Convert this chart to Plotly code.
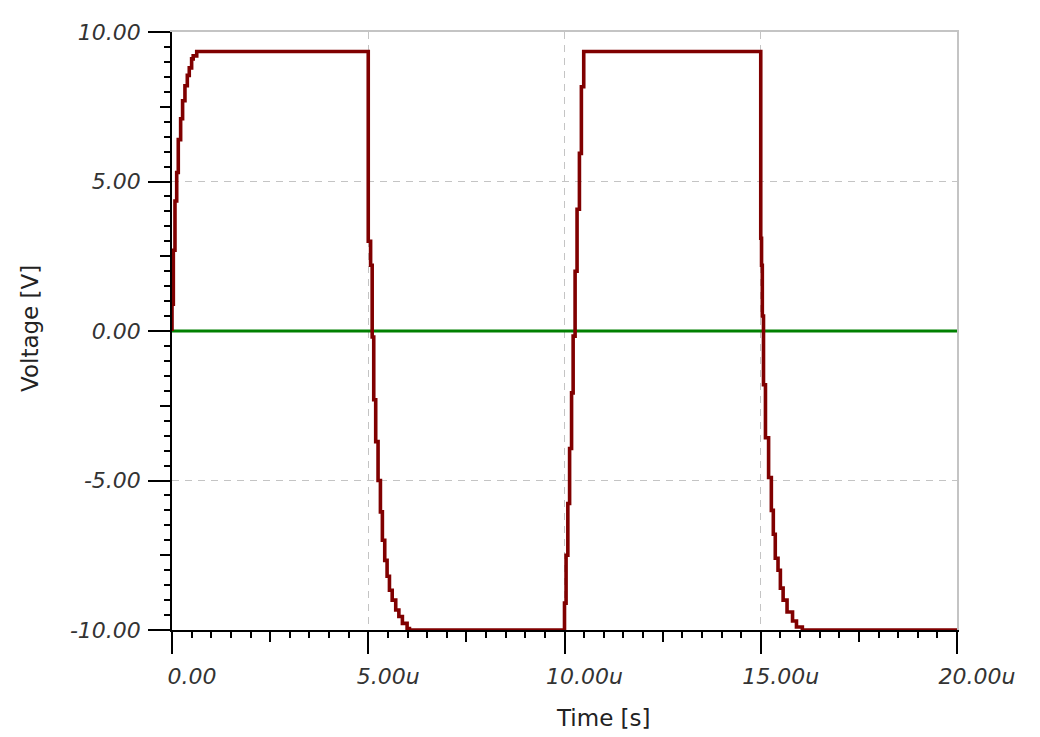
import plotly.graph_objects as go

# ---- data (time in microseconds, voltage in volts) ----
t_us = [0.0, 0.0, 0.034, 0.076, 0.12, 0.16, 0.22, 0.27, 0.33, 0.39, 0.44, 0.50, 0.54, 0.63,
        5.0, 5.06, 5.10, 5.14, 5.19, 5.25, 5.31, 5.36, 5.42, 5.48, 5.54, 5.61, 5.70, 5.78, 5.87, 5.99, 6.05,
        10.0, 10.04, 10.085, 10.13, 10.18, 10.22, 10.27, 10.32, 10.38, 10.43, 10.49,
        15.0, 15.02, 15.04, 15.07, 15.12, 15.20, 15.27, 15.32, 15.37, 15.44, 15.50, 15.57, 15.67, 15.81, 15.91, 16.06,
        20.0]
v_out = [0.0, 0.9, 2.7, 4.35, 5.3, 6.4, 7.1, 7.7, 8.2, 8.55, 8.8, 9.1, 9.2, 9.35,
         3.0, 2.2, -0.2, -2.3, -3.7, -5.0, -6.05, -7.0, -7.67, -8.2, -8.67, -9.0, -9.33, -9.55, -9.78, -9.95, -10.0,
         -9.1, -7.5, -5.77, -3.93, -2.07, -0.17, 2.0, 4.07, 5.94, 8.17, 9.35,
         3.1, 2.2, 0.5, -1.8, -3.57, -4.9, -6.0, -6.8, -7.6, -8.0, -8.6, -9.0, -9.4, -9.7, -9.9, -10.0,
         -10.0]
t_ref = [0.0, 20.0]
v_ref = [0.0, 0.0]

x_tickvals = [0, 5, 10, 15, 20]
x_ticktext = ["0.00", "5.00u", "10.00u", "15.00u", "20.00u"]
y_tickvals = [-10, -5, 0, 5, 10]
y_ticktext = ["-10.00", "-5.00", "0.00", "5.00", "10.00"]
x_mid_ticks = [2.5, 7.5, 12.5, 17.5]
y_mid_ticks = [-7.5, -2.5, 2.5, 7.5]

x_title = "Time [s]"
y_title = "Voltage [V]"

FONT = "DejaVu Sans"
GRID = "#c4c4c4"
DASH = "7px,6px"

fig = go.Figure()
fig.add_trace(go.Scatter(x=t_ref, y=v_ref, mode="lines",
                         line=dict(color="#008000", width=3.2), showlegend=False, hoverinfo="skip"))
fig.add_trace(go.Scatter(x=t_us, y=v_out, mode="lines", line_shape="hv",
                         line=dict(color="#800000", width=3.6), showlegend=False))
# helper traces for border / mid-tick axes
fig.add_trace(go.Scatter(x=[0], y=[0], xaxis="x2", yaxis="y2", mode="none",
                         showlegend=False, hoverinfo="skip"))
fig.add_trace(go.Scatter(x=[0], y=[0], xaxis="x3", yaxis="y3", mode="none",
                         showlegend=False, hoverinfo="skip"))

tickfont = dict(family=FONT, size=22, color="#333333", style="italic")

# the page body adds an 8px offset, so margins are reduced by 8px on left/top
fig.update_layout(
    width=1040, height=737,
    margin=dict(l=164, r=91, t=22, b=115, pad=0),
    paper_bgcolor="white", plot_bgcolor="white",
    xaxis=dict(range=[0, 20], tickvals=x_tickvals, ticktext=x_ticktext,
               showline=True, linecolor="black", linewidth=1.5,
               ticks="outside", ticklen=22, tickwidth=1.5, tickcolor="black",
               tickfont=tickfont, ticklabelshift=20, ticklabelstandoff=4,
               showgrid=True, gridcolor=GRID, griddash=DASH, gridwidth=1,
               zeroline=False,
               minor=dict(dtick=0.5, ticks="outside", ticklen=6, tickwidth=1.5,
                          tickcolor="black", showgrid=False)),
    yaxis=dict(range=[-10, 10], tickvals=y_tickvals, ticktext=y_ticktext,
               showline=True, linecolor="black", linewidth=1.5,
               ticks="outside", ticklen=22, tickwidth=1.5, tickcolor="black",
               tickfont=tickfont, ticklabelstandoff=3,
               showgrid=True, gridcolor=GRID, griddash=DASH, gridwidth=1,
               zeroline=False,
               minor=dict(dtick=0.5, ticks="outside", ticklen=6, tickwidth=1.5,
                          tickcolor="black", showgrid=False)),
    xaxis2=dict(range=[0, 20], overlaying="x", side="top", anchor="y2",
                showline=True, linecolor=GRID, linewidth=1.5,
                ticks="", showticklabels=False, showgrid=False, zeroline=False),
    yaxis2=dict(range=[-10, 10], overlaying="y", side="right", anchor="x2",
                showline=True, linecolor=GRID, linewidth=1.5,
                ticks="", showticklabels=False, showgrid=False, zeroline=False),
    xaxis3=dict(range=[0, 20], overlaying="x", side="bottom", anchor="y3",
                tickvals=x_mid_ticks, ticks="outside", ticklen=11, tickwidth=1.5,
                tickcolor="black", showticklabels=False, showline=False,
                showgrid=False, zeroline=False),
    yaxis3=dict(range=[-10, 10], overlaying="y", side="left", anchor="x3",
                tickvals=y_mid_ticks, ticks="outside", ticklen=11, tickwidth=1.5,
                tickcolor="black", showticklabels=False, showline=False,
                showgrid=False, zeroline=False),
    annotations=[
        dict(text=x_title, xref="paper", yref="paper", x=0.5503, y=-0.1467,
             xanchor="center", yanchor="middle", showarrow=False,
             font=dict(family=FONT, size=23, color="#222222")),
        dict(text=y_title, xref="paper", yref="paper", x=-0.1809, y=0.505,
             xanchor="center", yanchor="middle", textangle=-90, showarrow=False,
             font=dict(family=FONT, size=23, color="#222222")),
    ],
)

fig.write_html("out.html")
